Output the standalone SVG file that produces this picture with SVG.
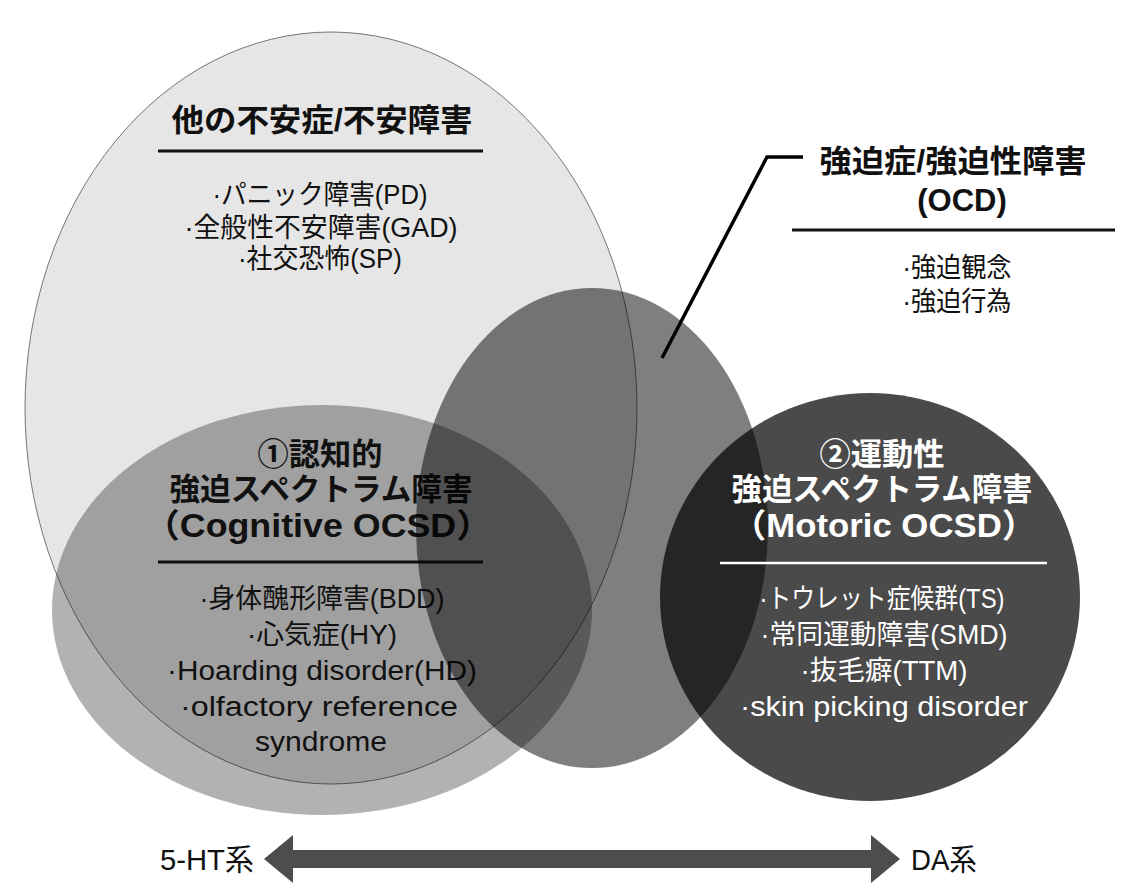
<svg xmlns="http://www.w3.org/2000/svg" width="1124" height="892" viewBox="0 0 1124 892">
<style>
.t{font-family:"Liberation Sans","Noto Sans CJK JP",sans-serif;text-anchor:middle;fill:#111}
.h{font-weight:700;font-size:31px}
.i{font-size:27px}
.w{fill:#fff}
.ax{font-size:30px;text-anchor:start}
.rule{stroke:#111;stroke-width:3}
.wrule{stroke:#fff;stroke-width:2.5}
</style>
<rect width="1124" height="892" fill="#fff"/>
<g id="anxiety">
<ellipse cx="331" cy="408" rx="306" ry="376" fill="#e6e6e6" stroke="#555" stroke-width="0.8"/>
<text class="t h" x="322" y="131" textLength="301" lengthAdjust="spacingAndGlyphs">他の不安症/不安障害</text>
<line class="rule" x1="158" y1="151" x2="483" y2="151"/>
<text class="t i" x="320" y="204" textLength="215" lengthAdjust="spacingAndGlyphs">·パニック障害(PD)</text>
<text class="t i" x="321" y="237" textLength="273" lengthAdjust="spacingAndGlyphs">·全般性不安障害(GAD)</text>
<text class="t i" x="320" y="268" textLength="164" lengthAdjust="spacingAndGlyphs">·社交恐怖(SP)</text>
</g>
<g id="cognitive">
<ellipse cx="322" cy="610" rx="270" ry="205" fill="#000" fill-opacity="0.30"/>
<text class="t h" x="320" y="465" textLength="125" lengthAdjust="spacingAndGlyphs">①認知的</text>
<text class="t h" x="321" y="500" textLength="303" lengthAdjust="spacingAndGlyphs">強迫スペクトラム障害</text>
<text class="t h" x="318" y="537" style="font-size:33px" textLength="348" lengthAdjust="spacingAndGlyphs">（Cognitive OCSD）</text>
<line class="rule" x1="158" y1="562" x2="483" y2="562"/>
<text class="t i" x="322" y="608" textLength="245" lengthAdjust="spacingAndGlyphs">·身体醜形障害(BDD)</text>
<text class="t i" x="322" y="644" textLength="150" lengthAdjust="spacingAndGlyphs">·心気症(HY)</text>
<text class="t i" x="322" y="680" textLength="310" lengthAdjust="spacingAndGlyphs">·Hoarding disorder(HD)</text>
<text class="t i" x="319" y="716" textLength="278" lengthAdjust="spacingAndGlyphs">·olfactory reference</text>
<text class="t i" x="321" y="751" textLength="132" lengthAdjust="spacingAndGlyphs">syndrome</text>
</g>
<g id="ocd">
<ellipse cx="592" cy="528" rx="176" ry="240" fill="#000" fill-opacity="0.5"/>
<text class="t h" x="953" y="172" textLength="267" lengthAdjust="spacingAndGlyphs">強迫症/強迫性障害</text>
<text class="t h" x="962" y="211">(OCD)</text>
<line class="rule" x1="792" y1="230" x2="1115" y2="230"/>
<text class="t i" x="957" y="277" textLength="109" lengthAdjust="spacingAndGlyphs">·強迫観念</text>
<text class="t i" x="957" y="311" textLength="109" lengthAdjust="spacingAndGlyphs">·強迫行為</text>
</g>
<g id="motoric">
<ellipse cx="870" cy="597" rx="210" ry="204" fill="#000" fill-opacity="0.71"/>
<text class="t h w" x="882" y="465" textLength="125" lengthAdjust="spacingAndGlyphs">②運動性</text>
<text class="t h w" x="882" y="500" textLength="301" lengthAdjust="spacingAndGlyphs">強迫スペクトラム障害</text>
<text class="t h w" x="884" y="537" style="font-size:33px" textLength="305" lengthAdjust="spacingAndGlyphs">（Motoric OCSD）</text>
<line class="wrule" x1="720" y1="563" x2="1047" y2="563"/>
<text class="t i w" x="882" y="608" textLength="245" lengthAdjust="spacingAndGlyphs">·トウレット症候群(TS)</text>
<text class="t i w" x="884" y="644" textLength="247" lengthAdjust="spacingAndGlyphs">·常同運動障害(SMD)</text>
<text class="t i w" x="884" y="680" textLength="167" lengthAdjust="spacingAndGlyphs">·抜毛癖(TTM)</text>
<text class="t i w" x="884" y="716" textLength="288" lengthAdjust="spacingAndGlyphs">·skin picking disorder</text>
</g>
<g id="axis">
<text class="t ax" x="160" y="870" textLength="94" lengthAdjust="spacingAndGlyphs">5-HT系</text>
<text class="t ax" x="911" y="870" textLength="66" lengthAdjust="spacingAndGlyphs">DA系</text>
</g>
<g id="connectors">
<polyline points="803,157 767,157 662,358" fill="none" stroke="#000" stroke-width="3.5"/>
<polygon points="264,859 293,835 293,850 871,850 871,835 900,859 871,883 871,868 293,868 293,883" fill="#4d4d4d"/>
</g>
</svg>
